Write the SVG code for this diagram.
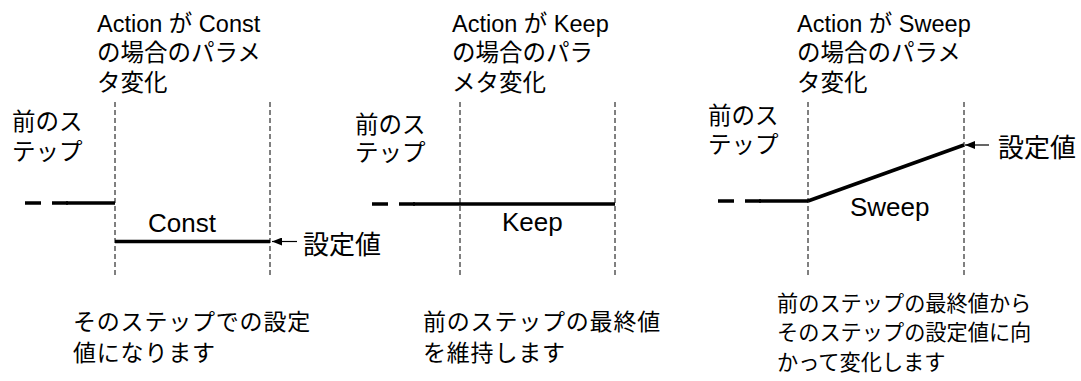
<svg xmlns="http://www.w3.org/2000/svg" width="1081" height="381" viewBox="0 0 1081 381">
<style>
.t{font-family:"Liberation Sans","Noto Sans CJK JP",sans-serif;font-size:23.5px;fill:#000}
.lb{font-family:"Liberation Sans","Noto Sans CJK JP",sans-serif;font-size:26px;fill:#000}
.b{font-family:"Noto Sans CJK JP",sans-serif;font-size:23px;letter-spacing:0.8px;fill:#000}
.b2{font-family:"Noto Sans CJK JP",sans-serif;font-size:21.2px;fill:#000}
.v{stroke:#000;stroke-width:1;stroke-dasharray:5,3;fill:none}
.h{stroke:#000;stroke-width:3.5;fill:none}
.hd{stroke:#000;stroke-width:3.5;fill:none;stroke-dasharray:16,11}
.ar{stroke:#000;stroke-width:1.2;fill:none;marker-start:url(#ah)}
</style>
<defs>
<marker id="ah" viewBox="0 0 10 8" refX="0" refY="4" markerWidth="10" markerHeight="8" markerUnits="userSpaceOnUse" orient="auto">
<path d="M0,4 L10,0 L10,8 Z" fill="#000"/>
</marker>
</defs>
<rect width="1081" height="381" fill="#fff"/>
<g id="connectors">
<line class="v" x1="115" y1="102" x2="115" y2="278"/>
<line class="v" x1="270" y1="102" x2="270" y2="278"/>
<line class="v" x1="460" y1="102" x2="460" y2="278"/>
<line class="v" x1="615" y1="102" x2="615" y2="278"/>
<line class="v" x1="808" y1="102" x2="808" y2="278"/>
<line class="v" x1="964" y1="102" x2="964" y2="278"/>
<line class="hd" x1="25" y1="203" x2="68" y2="203"/>
<line class="h" x1="66" y1="203" x2="115" y2="203"/>
<line class="h" x1="115" y1="241.5" x2="270" y2="241.5"/>
<line class="ar" x1="272" y1="241.5" x2="297" y2="241.5"/>
<line class="hd" x1="372" y1="204" x2="415" y2="204"/>
<line class="h" x1="413" y1="204" x2="615" y2="204"/>
<line class="hd" x1="718" y1="201" x2="761" y2="201"/>
<line class="h" x1="759" y1="201" x2="808" y2="201"/>
<polyline class="h" points="808,201 964,145"/>
<line class="ar" x1="965" y1="145" x2="989" y2="145"/>
</g>
<g id="panel-const">
<text class="t" x="97" y="32">Action が Const</text>
<text class="t" x="97" y="61">の場合のパラメ</text>
<text class="t" x="97" y="91">タ変化</text>
<text class="t" x="12" y="130">前のス</text>
<text class="t" x="12" y="160">テップ</text>
<text class="lb" x="148" y="232">Const</text>
<text class="lb" x="303" y="254">設定値</text>
<text class="b" x="73" y="330">そのステップでの設定</text>
<text class="b" x="73" y="361">値になります</text>
</g>
<g id="panel-keep">
<text class="t" x="452" y="32">Action が Keep</text>
<text class="t" x="452" y="61">の場合のパラ</text>
<text class="t" x="452" y="91">メタ変化</text>
<text class="t" x="355" y="133">前のス</text>
<text class="t" x="355" y="161">テップ</text>
<text class="lb" x="502" y="231">Keep</text>
<text class="b" x="423" y="330">前のステップの最終値</text>
<text class="b" x="423" y="361">を維持します</text>
</g>
<g id="panel-sweep">
<text class="t" x="797" y="32">Action が Sweep</text>
<text class="t" x="797" y="61">の場合のパラメ</text>
<text class="t" x="797" y="91">タ変化</text>
<text class="t" x="708" y="124">前のス</text>
<text class="t" x="708" y="153">テップ</text>
<text class="lb" x="850" y="216">Sweep</text>
<text class="lb" x="998" y="157">設定値</text>
<text class="b2" x="777" y="311">前のステップの最終値から</text>
<text class="b2" x="777" y="340">そのステップの設定値に向</text>
<text class="b2" x="777" y="370">かって変化します</text>
</g>
</svg>
